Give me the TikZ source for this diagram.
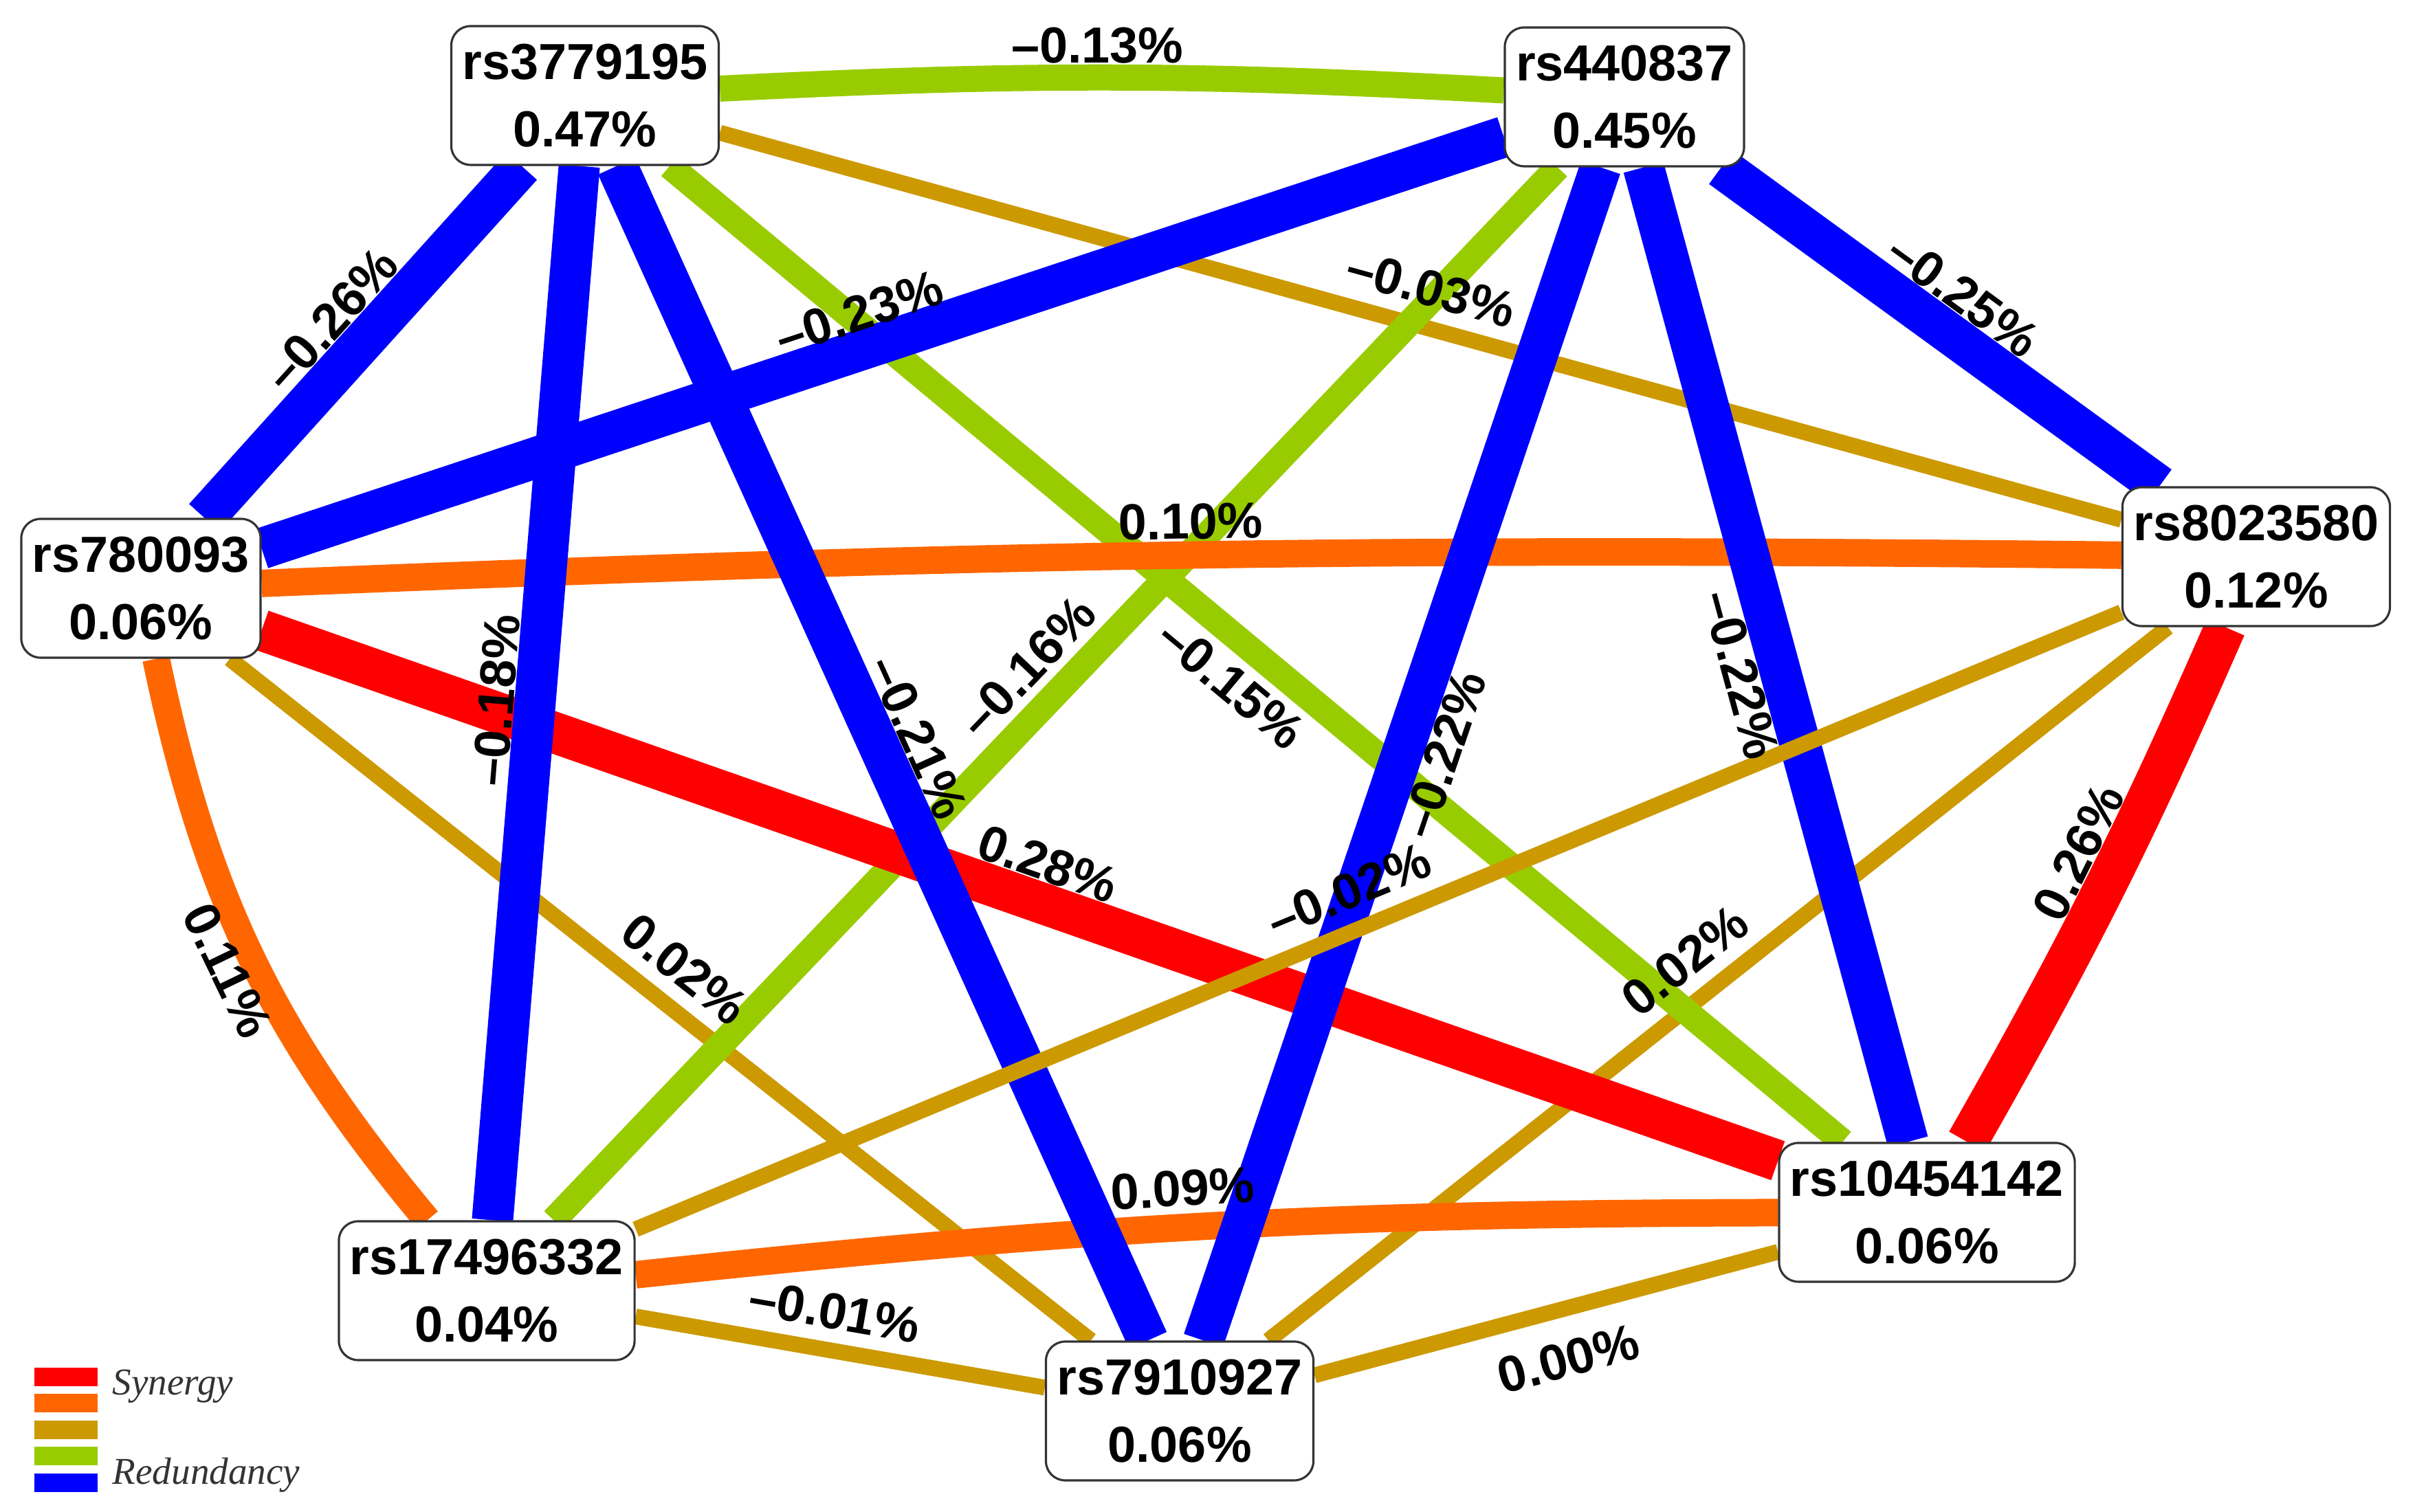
\documentclass[tikz,border=0pt]{standalone}
\usepackage{fontspec}
\setmainfont{Liberation Sans}
\newfontfamily\legfont{Liberation Serif}
\usetikzlibrary{backgrounds}
\usetikzlibrary{positioning}

\definecolor{synhi}{RGB}{255,0,0}
\definecolor{synlo}{RGB}{255,102,0}
\definecolor{neutral}{RGB}{204,153,0}
\definecolor{redlo}{RGB}{153,204,0}
\definecolor{redhi}{RGB}{0,0,255}

\tikzset{
    snp/.style={draw=black!80, line width=0.9pt, fill=white, rounded corners=0.28cm,
        align=center, font=\bfseries\fontsize{21}{28}\selectfont,
        inner xsep=0.16cm, inner ysep=0pt, minimum height=2.02cm},
    pct/.style={font=\bfseries\fontsize{21}{25}\selectfont, sloped, inner sep=0.3cm},
    wsynhi/.style={draw=synhi, line width=0.6cm},
    wsynlo/.style={draw=synlo, line width=0.4cm},
    wneutral/.style={draw=neutral, line width=0.23cm},
    wredlo/.style={draw=redlo, line width=0.38cm},
    wredhi/.style={draw=redhi, line width=0.6cm},
    keybar/.style={minimum width=0.92cm, minimum height=0.27cm, inner sep=0pt},
    keytext/.style={font=\legfont\itshape\fontsize{15.7}{18}\selectfont, text=black!80,
        anchor=base west, inner sep=0pt}
}

\begin{document}
\begin{tikzpicture}
    \useasboundingbox (0,0) rectangle (35.13,22);

    % SNPs
    \node[snp] (rs3779195) at (8.51,20.61) {rs3779195\\0.47\%};
    \node[snp] (rs440837) at (23.63,20.59) {rs440837\\0.45\%};
    \node[snp] (rs780093) at (2.05,13.44) {rs780093\\0.06\%};
    \node[snp] (rs8023580) at (32.82,13.90) {rs8023580\\0.12\%};
    \node[snp] (rs10454142) at (28.03,4.36) {rs10454142\\0.06\%};
    \node[snp] (rs17496332) at (7.08,3.22) {rs17496332\\0.04\%};
    \node[snp] (rs7910927) at (17.16,1.47) {rs7910927\\0.06\%};

    % interactions
    \begin{pgfonlayer}{background}
    \draw   (rs17496332) edge[wneutral] (rs7910927)
            (rs10454142) edge[wneutral] (rs7910927)
            (rs8023580) edge[wneutral] (rs7910927)
            (rs780093) edge[wneutral] (rs7910927)
            (rs3779195) edge[wneutral] (rs8023580)
            (rs3779195) edge[wredlo] (rs10454142)
            (rs440837) edge[wredlo] (rs17496332)
            (rs3779195) edge[wredlo, bend left=3] (rs440837)
            (rs780093) edge[wsynhi] (rs10454142)
            (rs8023580) edge[wsynhi, bend left=3] (rs10454142)
            (rs780093) edge[wsynlo, bend left=1.5] (rs8023580)
            (rs780093) edge[wsynlo, bend right=14] (rs17496332)
            (rs10454142) edge[wsynlo, bend right=3] (rs17496332)
            (rs3779195) edge[wredhi] (rs780093)
            (rs3779195) edge[wredhi] (rs17496332)
            (rs3779195) edge[wredhi] (rs7910927)
            (rs440837) edge[wredhi] (rs780093)
            (rs440837) edge[wredhi] (rs8023580)
            (rs440837) edge[wredhi] (rs10454142)
            (rs440837) edge[wredhi] (rs7910927)
            (rs8023580) edge[wneutral] (rs17496332)
            ;
    \end{pgfonlayer}

    \path[every edge/.append style={draw=none}]
            (rs3779195) edge[bend left=3] node[pct, above, inner sep=0.2cm, pos=.48]{--0.13\%} (rs440837)
            (rs3779195) edge node[pct, above, pos=.51]{--0.26\%} (rs780093)
            (rs3779195) edge node[pct, above, pos=.5]{--0.03\%} (rs8023580)
            (rs3779195) edge node[pct, below, pos=.5]{--0.15\%} (rs10454142)
            (rs3779195) edge node[pct, above, pos=.51]{--0.18\%} (rs17496332)
            (rs3779195) edge node[pct, above, pos=.5]{--0.21\%} (rs7910927)
            (rs440837) edge node[pct, above, inner sep=0.25cm, pos=.51]{--0.23\%} (rs780093)
            (rs440837) edge node[pct, above, pos=.5]{--0.25\%} (rs8023580)
            (rs440837) edge node[pct, below, pos=.51]{--0.22\%} (rs10454142)
            (rs440837) edge node[pct, above, pos=.5]{--0.16\%} (rs17496332)
            (rs440837) edge node[pct, below, pos=.49]{--0.22\%} (rs7910927)
            (rs780093) edge[bend left=1.5] node[pct, above, inner sep=0.22cm, pos=.5]{0.10\%} (rs8023580)
            (rs780093) edge node[pct, above, pos=.51]{0.28\%} (rs10454142)
            (rs780093) edge[bend right=14] node[pct, below, inner sep=0.12cm, pos=.5]{0.11\%} (rs17496332)
            (rs780093) edge node[pct, above, pos=.5]{0.02\%} (rs7910927)
            (rs8023580) edge[bend left=3] node[pct, above, pos=.46]{0.26\%} (rs10454142)
            (rs8023580) edge node[pct, above, pos=.51]{--0.02\%} (rs17496332)
            (rs8023580) edge node[pct, above, pos=.51]{0.02\%} (rs7910927)
            (rs10454142) edge[bend right=3] node[pct, above, pos=.52]{0.09\%} (rs17496332)
            (rs10454142) edge node[pct, below, inner sep=0.45cm, pos=.48]{0.00\%} (rs7910927)
            (rs17496332) edge node[pct, above, pos=.47]{--0.01\%} (rs7910927)
            ;

    % legend
    \node[keybar, fill=synhi] (key1) at (0.96,1.965) {};
    \node[keybar, fill=synlo, below=0.1cm of key1] (key2) {};
    \node[keybar, fill=neutral, below=0.1cm of key2] (key3) {};
    \node[keybar, fill=redlo, below=0.1cm of key3] (key4) {};
    \node[keybar, fill=redhi, below=0.1cm of key4] (key5) {};
    \node[keytext] (synergy) at (1.63,1.70) {Synergy};
    \node[keytext] (redundancy) at (1.63,0.40) {Redundancy};
\end{tikzpicture}
\end{document}
